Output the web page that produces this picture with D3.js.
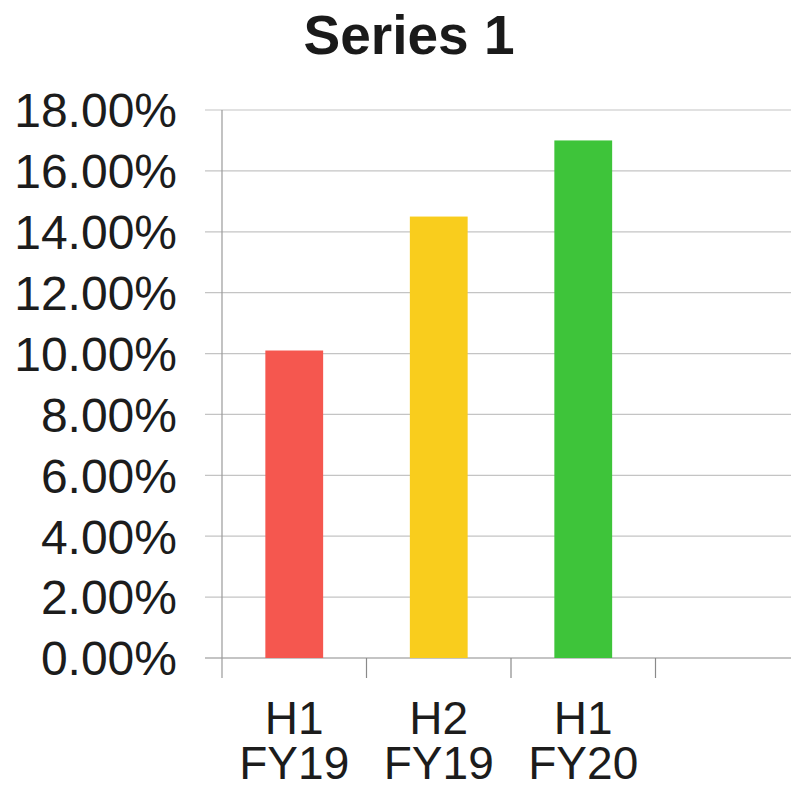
<!DOCTYPE html>
<html><head><meta charset="utf-8">
<script src="https://cdn.jsdelivr.net/npm/d3@7"></script>
<style>body{margin:0;background:#fff}svg{display:block}</style>
</head><body>
<script>
const title = "Series 1";
const categories = ["H1\nFY19", "H2\nFY19", "H1\nFY20", ""];
const values = [10.1, 14.5, 17.0];
const colors = ["#f5574f", "#f9cd1d", "#3ec43a"];
const yTicks = [0, 2, 4, 6, 8, 10, 12, 14, 16, 18];

const W = 791, H = 790;
const svg = d3.select("body").append("svg").attr("width", W).attr("height", H);
const font = "'Liberation Sans', Arial, sans-serif";

const x = d3.scaleBand().domain(categories).range([222, 800]).paddingInner(0.6).paddingOuter(0.3);
const y = d3.scaleLinear().domain([0, 18]).range([658, 110]);
const step = x.step();
const bandStart = c => x(c) - (step - x.bandwidth()) / 2;

// gridlines + y ticks
svg.append("g").selectAll("line").data(yTicks).join("line")
  .attr("x1", 205).attr("x2", W).attr("y1", d => y(d)).attr("y2", d => y(d))
  .attr("stroke", d => d === 0 ? "#8a8a8a" : "#c4c4c4").attr("stroke-width", 1.2);

// y axis line
svg.append("line").attr("x1", 222).attr("x2", 222).attr("y1", y(18)).attr("y2", 678)
  .attr("stroke", "#9a9a9a").attr("stroke-width", 1.2);

// x ticks at band boundaries
svg.append("g").selectAll("line").data(categories.slice(1)).join("line")
  .attr("x1", d => bandStart(d)).attr("x2", d => bandStart(d))
  .attr("y1", y(0)).attr("y2", 678)
  .attr("stroke", "#8a8a8a").attr("stroke-width", 1.2);

// bars
svg.append("g").selectAll("rect").data(values).join("rect")
  .attr("x", (d, i) => x(categories[i])).attr("width", x.bandwidth())
  .attr("y", d => y(d)).attr("height", d => y(0) - y(d))
  .attr("fill", (d, i) => colors[i]);

// y labels
const fmt = d3.format(".2%");
svg.append("g").selectAll("text").data(yTicks).join("text")
  .attr("x", 177).attr("y", d => y(d)).attr("dy", "0.36em")
  .attr("text-anchor", "end").attr("font-family", font).attr("font-size", 48)
  .attr("fill", "#1c1c1c").text(d => fmt(d / 100));

// x labels (two separate lines)
const lines = [];
categories.filter(c => c).forEach(c => c.split("\n").forEach((t, i) => lines.push({ c, t, i })));
svg.append("g").selectAll("text").data(lines).join("text")
  .attr("x", d => x(d.c) + x.bandwidth() / 2).attr("y", d => 734 + d.i * 45)
  .attr("text-anchor", "middle").attr("font-family", font).attr("font-size", 46)
  .attr("fill", "#1c1c1c").text(d => d.t);

// title
svg.append("text").attr("x", 409).attr("y", 54).attr("text-anchor", "middle")
  .attr("font-family", font).attr("font-size", 55).attr("font-weight", "bold")
  .attr("fill", "#1a1a1a").text(title);
</script>
</body></html>
